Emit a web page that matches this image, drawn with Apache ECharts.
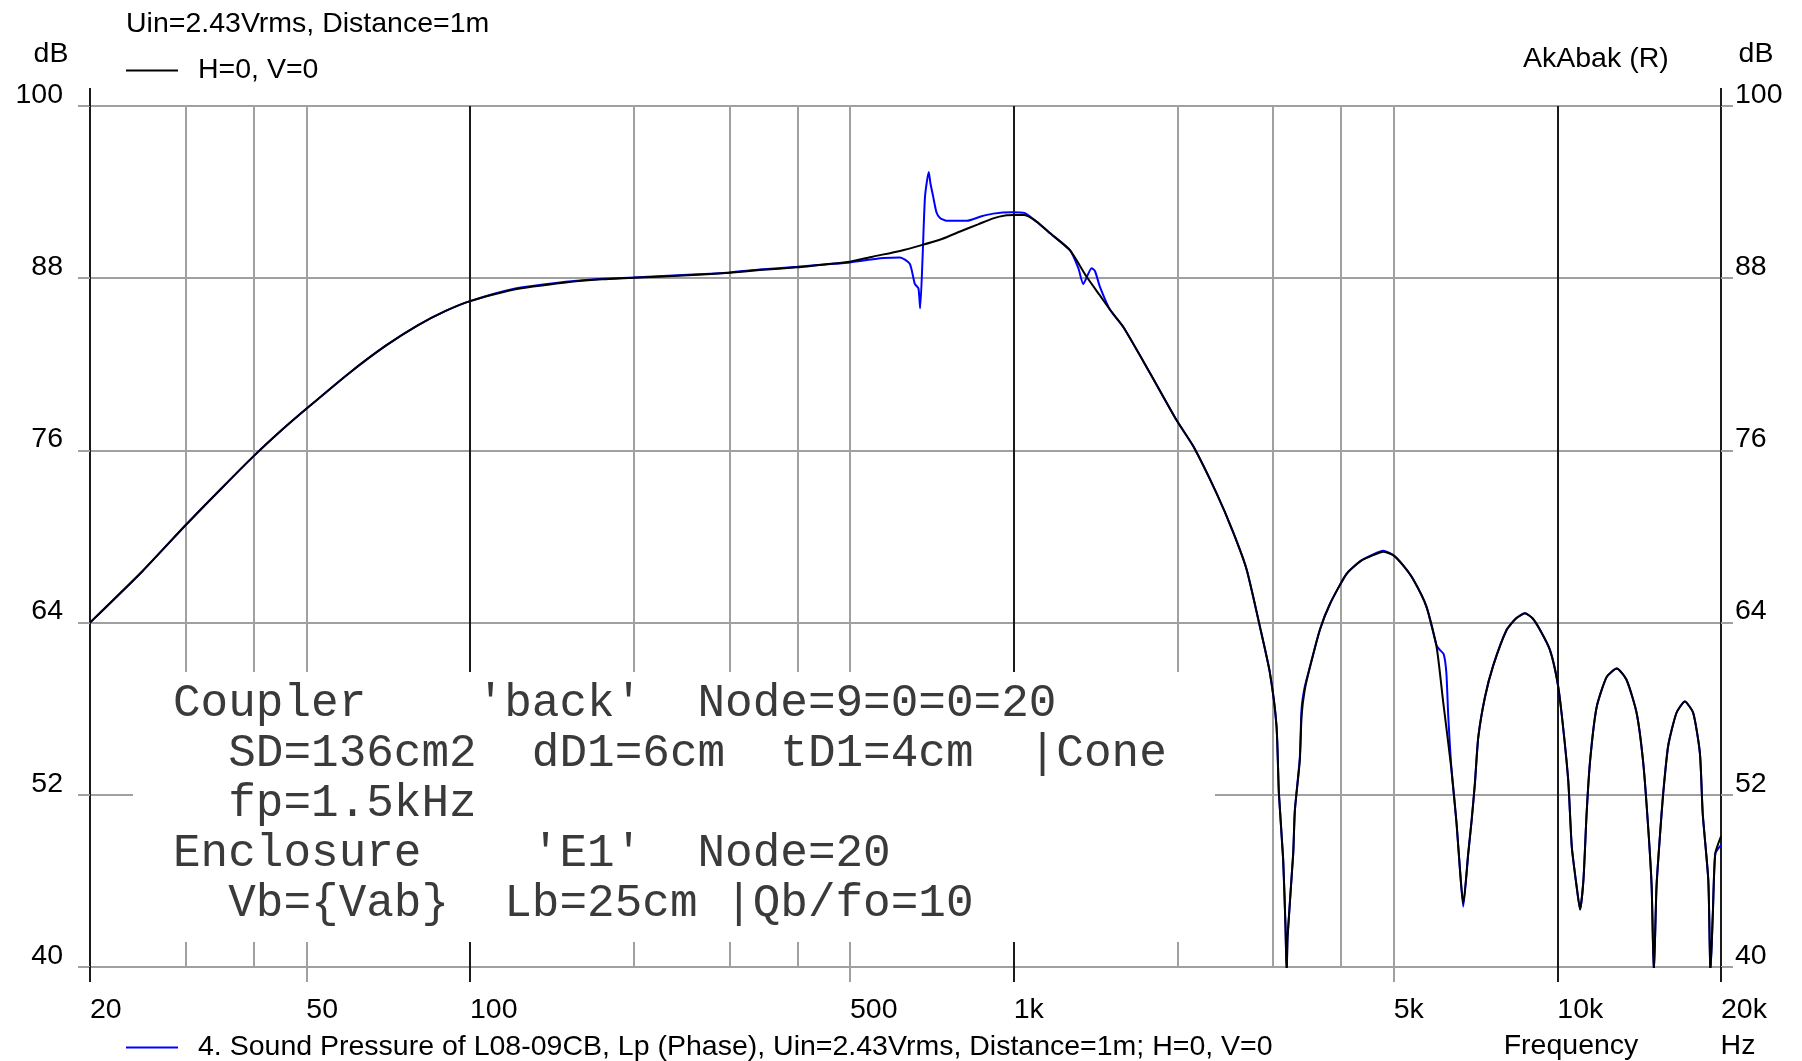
<!DOCTYPE html>
<html><head><meta charset="utf-8">
<script src="https://cdn.jsdelivr.net/npm/echarts@6/dist/echarts.min.js"></script>
<style>html,body{margin:0;padding:0;background:#fff}#c{width:1802px;height:1061px}</style>
</head><body><div id="c"></div>
<script>
// ---- data ----
const blackName = 'H=0, V=0';
const blueName = '4. Sound Pressure of L08-09CB, Lp (Phase), Uin=2.43Vrms, Distance=1m; H=0, V=0';
const blackHz = [20,25,30,35,40,45,50,60,70,80,
  90,100,120,150,175,200,257,
  300,341,400,453,500,550,618,672,740,795,
  860,917,970,1000,1046,1102,1167,1269,1362,1441,
  1504,1591,1781,1994,2139,2362,2533,2682,2838,2960,
  3044,3075,3131,3162,3178,3190,3267,3290,3360,3385,
  3430,3507,3658,3817,4096,4350,4584,4783,4990,5200,
  5433,5746,5997,6169,6389,6526,6620,6713,6856,6955,
  7053,7154,7359,7621,8069,8400,8716,9000,9290,9690,
  9990,10180,10472,10630,10852,11010,11170,11320,11490,11810,
  12320,12860,13410,13990,14390,14700,14910,15050,15220,15440,
  15640,15990,16560,17160,17780,18290,18510,18950,19070,19120,
  19320,19520,20000];
const blackDb = [64.0,67.6,70.8,73.4,75.6,77.4,78.9,81.4,83.3,84.7,
  85.7,86.4,87.2,87.7,87.92,88.03,88.22,
  88.38,88.57,88.76,88.97,89.15,89.5,89.9,90.27,90.75,91.24,
  91.75,92.17,92.38,92.4,92.4,91.94,91.13,89.95,88.1,86.8,
  85.8,84.6,81.4,78.1,76.3,73.0,70.3,67.7,63.7,60.5,
  56.8,52.1,47.5,42.8,39.5,42.1,47.9,50.9,54.4,57.5,
  59.3,60.9,63.5,65.3,67.4,68.3,68.7,68.94,68.7,68.0,
  67.0,65.1,62.3,58.4,53.7,50.0,46.8,44.4,47.9,50.2,
  52.8,56.0,58.8,61.0,63.5,64.3,64.65,64.3,63.5,62.1,
  60.0,57.7,53.0,48.4,45.6,44.0,46.1,50.7,54.4,58.1,
  60.2,60.8,60.0,57.7,54.2,49.6,45.6,39.5,45.6,49.1,
  51.9,55.4,57.7,58.5,57.7,54.9,50.7,46.1,41.4,39.5,
  43.7,47.9,49.1];
const blueHz = [20,25,30,35,40,45,50,60,70,80,
  90,100,120,150,175,200,257,
  300,341,400,453,500,521,576,618,644,658,
  668,673,680,687,698,703,711,721,732,753,
  820,870,917,990,1046,1102,1167,1269,1315,1343,
  1391,1411,1441,1504,1591,1781,1994,2139,2362,2533,
  2682,2838,2960,3044,3075,3131,3162,3178,3190,3267,
  3290,3360,3385,3430,3507,3658,3817,4096,4350,4584,
  4783,4990,5200,5433,5746,5997,6080,6180,6250,6300,
  6389,6526,6620,6713,6856,6955,7053,7154,7359,7621,
  8069,8400,8716,9000,9290,9690,9990,10180,10472,10630,
  10852,11010,11170,11320,11490,11810,12320,12860,13410,13990,
  14390,14700,14910,15050,15220,15440,15640,15990,16560,17160,
  17780,18290,18510,18950,19070,19120,19320,19520,20000];
const blueDb = [64.0,67.6,70.8,73.4,75.6,77.4,78.9,81.4,83.3,84.7,
  85.7,86.4,87.25,87.75,87.97,88.05,88.25,
  88.4,88.6,88.8,88.97,89.1,89.2,89.4,89.45,89.0,87.6,
  87.3,85.9,89.5,93.7,95.4,94.6,93.7,92.6,92.2,92.0,
  92.0,92.3,92.5,92.6,92.55,91.94,91.13,89.95,88.7,87.6,
  88.7,88.5,87.4,85.8,84.6,81.4,78.1,76.3,73.0,70.3,
  67.7,63.7,60.5,56.8,52.1,47.5,42.8,39.5,42.1,47.9,
  50.9,54.6,58.0,59.5,60.9,63.5,65.3,67.4,68.3,68.75,
  69.0,68.7,68.0,67.0,65.1,62.4,62.1,61.8,60.5,57.5,
  53.7,50.0,46.8,44.2,47.9,50.2,52.8,56.0,58.8,61.0,
  63.5,64.3,64.65,64.3,63.5,62.1,60.0,57.7,53.0,48.4,
  45.6,44.0,46.1,50.7,54.4,58.1,60.2,60.8,60.0,57.7,
  54.2,49.6,45.6,39.5,45.6,49.1,51.9,55.4,57.7,58.5,
  57.7,54.9,50.7,46.1,41.4,39.5,43.7,47.9,48.5];
const yTicks = [40,52,64,76,88,100];
const xMajorHz = [20,100,1000,10000,20000];
const xMidHz = [50,500,5000];
const xMinorHz = [30,40,200,300,400,2000,3000,4000];
const xEdgeHz = [20,20000];
const xLabelHz = [20,50,100,500,1000,5000,10000,20000];
const xLabelText = ['20','50','100','500','1k','5k','10k','20k'];
const noteLines = [
  "Coupler    'back'  Node=9=0=0=20",
  "  SD=136cm2  dD1=6cm  tD1=4cm  |Cone",
  "  fp=1.5kHz",
  "Enclosure    'E1'  Node=20",
  "  Vb={Vab}  Lb=25cm |Qb/fo=10"
];

// ---- chart ----
const FONT = 'Liberation Sans';
const MONO = 'Liberation Mono';
const FS = 28.5;
const DARK = '#1a1a1a', GRAY = '#a0a0a0';
const txt = {fontFamily: FONT, fontSize: FS, color: '#000', fontWeight: 'normal'};

function hzLabel(v) {
  for (let i = 0; i < xLabelHz.length; i++) {
    if (Math.abs(v - xLabelHz[i]) / xLabelHz[i] < 1e-4) return xLabelText[i];
  }
  return '';
}
const baseX = {type: 'log', logBase: 10, min: 20, max: 20000, position: 'bottom',
  axisLine: {show: false}, axisLabel: {show: false}, splitLine: {show: false}, axisTick: {show: false}};
const baseY = {type: 'value', min: 40, max: 100, axisLine: {show: false}};

const chart = echarts.init(document.getElementById('c'), null, {renderer: 'canvas'});
const graphicEls = [
  {type: 'rect', z: 5, shape: {x: 133, y: 672, width: 1082, height: 270}, style: {fill: '#fff'}},
  {type: 'text', z: 6, x: 51, y: 54, style: {text: 'dB', fontFamily: FONT, fontSize: FS, fill: '#000', align: 'center', verticalAlign: 'middle'}},
  {type: 'text', z: 6, x: 1756, y: 54, style: {text: 'dB', fontFamily: FONT, fontSize: FS, fill: '#000', align: 'center', verticalAlign: 'middle'}},
  {type: 'text', z: 6, x: 1571, y: 1046, style: {text: 'Frequency', fontFamily: FONT, fontSize: FS, fill: '#000', align: 'center', verticalAlign: 'middle'}},
  {type: 'text', z: 6, x: 1738, y: 1046, style: {text: 'Hz', fontFamily: FONT, fontSize: FS, fill: '#000', align: 'center', verticalAlign: 'middle'}}
];
noteLines.forEach((line, i) => {
  graphicEls.push({type: 'text', z: 6, x: 173, y: 704 + 50 * i,
    style: {text: line, fontFamily: MONO, fontSize: 46, fill: '#3a3a3a', align: 'left', verticalAlign: 'middle'}});
});

chart.setOption({
  animation: false,
  backgroundColor: '#fff',
  grid: {left: 90, right: 81, top: 106, bottom: 94, containLabel: false},
  title: [
    {text: 'Uin=2.43Vrms, Distance=1m', left: 126, top: 10, padding: 0, textStyle: Object.assign({lineHeight: 28}, txt)},
    {text: 'AkAbak (R)', left: 1523, top: 45, padding: 0, textStyle: Object.assign({lineHeight: 28}, txt)}
  ],
  legend: [
    {data: [blackName], left: 126, top: 56, padding: 0, icon: 'rect', itemWidth: 52, itemHeight: 2, selectedMode: false,
      textStyle: Object.assign({padding: [0, 0, 0, 15], lineHeight: 28}, txt)},
    {data: [blueName], left: 126, top: 1033, padding: 0, icon: 'rect', itemWidth: 52, itemHeight: 2, selectedMode: false,
      textStyle: Object.assign({padding: [0, 0, 0, 15], lineHeight: 28}, txt)}
  ],
  xAxis: [
    Object.assign({}, baseX, {
      axisTick: {show: true, customValues: xMajorHz, length: 15, lineStyle: {color: DARK, width: 2}},
      splitLine: {show: true, showMinLine: true, showMaxLine: true, lineStyle: {color: DARK, width: 2}},
      axisLabel: Object.assign({show: true, customValues: xLabelHz, formatter: hzLabel, align: 'left', margin: 29}, txt)
    }),
    Object.assign({}, baseX, {
      axisTick: {show: true, customValues: xMidHz, length: 15, lineStyle: {color: GRAY, width: 2}},
      splitLine: {show: true, lineStyle: {color: GRAY, width: 2}}
    }),
    Object.assign({}, baseX, {
      axisTick: {show: false, customValues: xMinorHz},
      splitLine: {show: true, lineStyle: {color: GRAY, width: 2}}
    }),
    Object.assign({}, baseX, {
      position: 'top',
      axisTick: {show: true, customValues: xEdgeHz, length: 18, lineStyle: {color: DARK, width: 2}}
    })
  ],
  yAxis: [
    Object.assign({}, baseY, {
      position: 'left',
      axisTick: {show: true, customValues: yTicks, length: 12, lineStyle: {color: GRAY, width: 2}},
      splitLine: {show: true, showMinLine: true, showMaxLine: true, lineStyle: {color: GRAY, width: 2}},
      axisLabel: Object.assign({customValues: yTicks, align: 'right', verticalAlign: 'bottom', lineHeight: 22, margin: 27}, txt)
    }),
    Object.assign({}, baseY, {
      position: 'right',
      axisTick: {show: true, customValues: yTicks, length: 12, lineStyle: {color: GRAY, width: 2}},
      splitLine: {show: false},
      axisLabel: Object.assign({customValues: yTicks, align: 'left', verticalAlign: 'bottom', lineHeight: 22, margin: 14}, txt)
    })
  ],
  graphic: {elements: graphicEls},
  series: [
    {name: blueName, type: 'line', xAxisIndex: 0, yAxisIndex: 0, z: 3, clip: true, smooth: 0.2,
      data: blueHz.map((f, i) => [f, blueDb[i]]), symbol: 'none', showSymbol: false,
      color: '#0000ff', itemStyle: {color: '#0000ff'}, lineStyle: {color: '#0000ff', width: 2}},
    {name: blackName, type: 'line', xAxisIndex: 0, yAxisIndex: 0, z: 4, clip: true, smooth: 0.2,
      data: blackHz.map((f, i) => [f, blackDb[i]]), symbol: 'none', showSymbol: false,
      color: '#000000', itemStyle: {color: '#000000'}, lineStyle: {color: '#000000', width: 2}}
  ]
});
</script>
</body></html>
